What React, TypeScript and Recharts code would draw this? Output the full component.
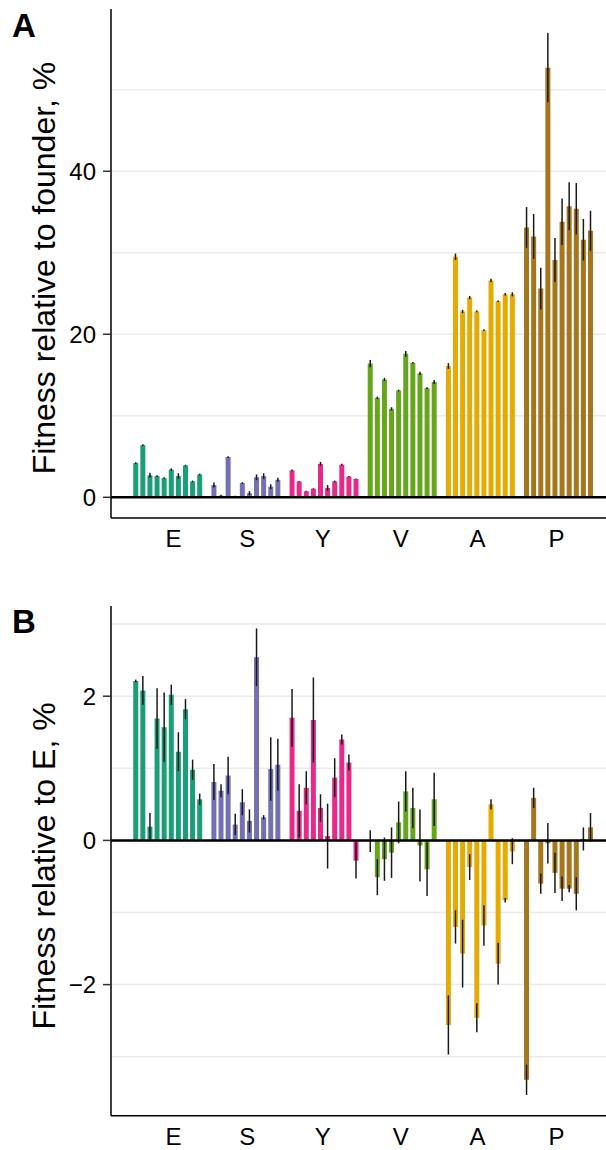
import React from 'react';
import { BarChart, Bar, XAxis, YAxis, ErrorBar, Cell, ReferenceLine, CartesianGrid } from 'recharts';

const GROUPS = ['E', 'S', 'Y', 'V', 'A', 'P'];
const COLORS = ['#1B9E77', '#7570B3', '#E7298A', '#66A61E', '#E6AB02', '#A6761D'];
// x positions (in bar slots) of the group labels
const LABEL_SLOTS = [5.3, 15.7, 26.3, 37.3, 48.1, 59.2];

// Panel A: fitness relative to founder, %
const founderE = [4.2, 6.4, 2.7, 2.6, 2.35, 3.4, 2.6, 3.9, 1.95, 2.8];
const founderS = [1.5, 0.2, 4.95, 0.15, 1.75, 0.5, 2.45, 2.6, 1.3, 2.15];
const founderY = [3.3, 1.95, 0.75, 1.05, 4.1, 1.15, 1.95, 4.0, 2.55, 2.25];
const founderV = [16.4, 12.2, 14.45, 10.85, 13.1, 17.6, 16.5, 15.2, 13.4, 14.15];
const founderA = [16.1, 29.5, 22.8, 24.5, 22.8, 20.5, 26.6, 24.05, 24.9, 24.9];
const founderP = [33.1, 32.0, 25.6, 52.7, 29.1, 33.8, 35.7, 35.4, 31.6, 32.7];
const founderErrE = [0.1, 0.1, 0.3, 0.1, 0.1, 0.15, 0.35, 0.1, 0.1, 0.1];
const founderErrS = [0.3, 0.1, 0.1, 0.05, 0.1, 0.25, 0.35, 0.35, 0.3, 0.25];
const founderErrY = [0.1, 0.05, 0.05, 0.05, 0.25, 0.35, 0.1, 0.1, 0.05, 0.05];
const founderErrV = [0.45, 0.15, 0.2, 0.2, 0.1, 0.35, 0.1, 0.2, 0.1, 0.25];
const founderErrA = [0.35, 0.4, 0.2, 0.2, 0.1, 0.1, 0.2, 0.1, 0.15, 0.25];
const founderErrP = [2.5, 2.75, 2.55, 4.25, 2.7, 2.85, 2.95, 3.15, 2.55, 2.45];

// Panel B: fitness relative to E, %
const relE = [2.21, 2.08, 0.19, 1.69, 1.57, 2.02, 1.23, 1.82, 0.98, 0.57];
const relS = [0.81, 0.69, 0.9, 0.22, 0.53, 0.27, 2.54, 0.32, 0.99, 1.05];
const relY = [1.7, 0.41, 0.73, 1.67, 0.45, 0.06, 0.87, 1.4, 1.08, -0.28];
const relV = [-0.01, -0.51, -0.26, -0.17, 0.25, 0.68, 0.45, -0.07, -0.4, 0.57];
const relA = [-2.56, -1.2, -1.57, -0.37, -2.46, -1.18, 0.5, -1.71, -0.83, -0.15];
const relP = [-3.32, 0.59, -0.6, -0.04, -0.45, -0.67, -0.67, -0.74, 0.02, 0.18];
const relErrE = [0.02, 0.2, 0.19, 0.42, 0.48, 0.14, 0.27, 0.14, 0.14, 0.08];
const relErrS = [0.25, 0.09, 0.26, 0.15, 0.18, 0.16, 0.4, 0.03, 0.44, 0.36];
const relErrY = [0.4, 0.37, 0.23, 0.59, 0.19, 0.45, 0.27, 0.07, 0.11, 0.25];
const relErrV = [0.15, 0.25, 0.3, 0.35, 0.29, 0.28, 0.28, 0.5, 0.37, 0.37];
const relErrA = [0.41, 0.23, 0.47, 0.18, 0.2, 0.28, 0.07, 0.29, 0.03, 0.18];
const relErrP = [0.21, 0.14, 0.14, 0.28, 0.28, 0.17, 0.05, 0.23, 0.16, 0.2];

const ticksA = [0, 20, 40];
const gridA = [10, 20, 30, 40, 50];
const ticksB = [-2, 0, 2];
const gridB = [-3, -2, -1, 1, 2, 3];

type Row = { x: number; v: number; e: number; g: number };

function buildData(means: number[][], errs: number[][]): Row[] {
  const rows: Row[] = [];
  means.forEach((arr, g) =>
    arr.forEach((v, i) => rows.push({ x: g * 11 + i, v, e: errs[g][i], g }))
  );
  return rows;
}

const dataA = buildData(
  [founderE, founderS, founderY, founderV, founderA, founderP],
  [founderErrE, founderErrS, founderErrY, founderErrV, founderErrA, founderErrP]
);
const dataB = buildData(
  [relE, relS, relY, relV, relA, relP],
  [relErrE, relErrS, relErrY, relErrV, relErrA, relErrP]
);

const X_DOMAIN: [number, number] = [-3.49, 70.96];
const FONT = '"Liberation Sans", Arial, sans-serif';

function Panel(props: {
  data: Row[];
  yDomain: [number, number];
  yTicks: number[];
  grid: number[];
  height: number;
  bottom: number;
  xHeight: number;
}) {
  const { data, yDomain, yTicks, grid, height, bottom, xHeight } = props;
  return (
    <BarChart
      width={640}
      height={height}
      data={data}
      margin={{ top: 9, right: 0, bottom, left: 0 }}
    >
      <CartesianGrid
        vertical={false}
        horizontalValues={grid}
        stroke="#EBEBEB"
        strokeWidth={1.5}
      />
      <XAxis
        dataKey="x"
        type="number"
        domain={X_DOMAIN}
        allowDataOverflow
        ticks={LABEL_SLOTS}
        interval={0}
        tickFormatter={(t: number) => GROUPS[LABEL_SLOTS.indexOf(t)] ?? ''}
        tickLine={false}
        tickSize={0}
        tickMargin={12}
        height={xHeight}
        axisLine={{ stroke: '#000', strokeWidth: 1.5 }}
        tick={{ fill: '#000', fontSize: 24, fontFamily: FONT }}
      />
      <XAxis
        xAxisId="top"
        orientation="top"
        dataKey="x"
        type="number"
        domain={X_DOMAIN}
        allowDataOverflow
        height={0}
        tick={false}
        tickLine={false}
        axisLine={{ stroke: '#000', strokeWidth: 1.5 }}
      />
      <YAxis
        type="number"
        domain={yDomain}
        allowDataOverflow
        ticks={yTicks}
        interval={0}
        width={111}
        tickSize={8}
        tickMargin={7}
        tickFormatter={(t: number) => (t < 0 ? '\u2212' + Math.abs(t) : String(t))}
        tickLine={{ stroke: '#333', strokeWidth: 1.5 }}
        axisLine={{ stroke: '#000', strokeWidth: 1.5 }}
        tick={{ fill: '#000', fontSize: 24, fontFamily: FONT }}
      />
      <Bar dataKey="v" barSize={5} isAnimationActive={false}>
        {data.map((d, i) => (
          <Cell key={i} fill={COLORS[d.g]} />
        ))}
        <ErrorBar dataKey="e" width={0} stroke="#1a1a1a" strokeWidth={1.5} direction="y" />
      </Bar>
      <ReferenceLine y={0} stroke="#000" strokeWidth={2.5} />
    </BarChart>
  );
}

export default function App() {
  return (
    <div
      style={{
        position: 'absolute',
        left: 0,
        top: 0,
        width: 606,
        height: 1150,
        overflow: 'hidden',
        background: '#fff',
        fontFamily: FONT,
      }}
    >
      <div style={{ position: 'absolute', left: 0, top: 0 }}>
        <Panel data={dataA} yDomain={[-2.54, 59.9]} yTicks={ticksA} grid={gridA} height={560} bottom={2} xHeight={40} />
      </div>
      <div style={{ position: 'absolute', left: 0, top: 597 }}>
        <Panel data={dataB} yDomain={[-3.818, 3.251]} yTicks={ticksB} grid={gridB} height={553} bottom={4.3} xHeight={30} />
      </div>
      <svg
        width={606}
        height={1150}
        style={{ position: 'absolute', left: 0, top: 0, pointerEvents: 'none' }}
      >
        <text x={12} y={37} fontSize={33} fontWeight="bold" fill="#000" fontFamily={FONT}>
          A
        </text>
        <text x={12} y={633} fontSize={33} fontWeight="bold" fill="#000" fontFamily={FONT}>
          B
        </text>
        <text
          x={55}
          y={268}
          transform="rotate(-90 55 268)"
          textAnchor="middle"
          fontSize={32}
          fill="#000"
          fontFamily={FONT}
        >
          Fitness relative to founder, %
        </text>
        <text
          x={55}
          y={866}
          transform="rotate(-90 55 866)"
          textAnchor="middle"
          fontSize={32}
          fill="#000"
          fontFamily={FONT}
        >
          Fitness relative to E, %
        </text>
      </svg>
    </div>
  );
}
